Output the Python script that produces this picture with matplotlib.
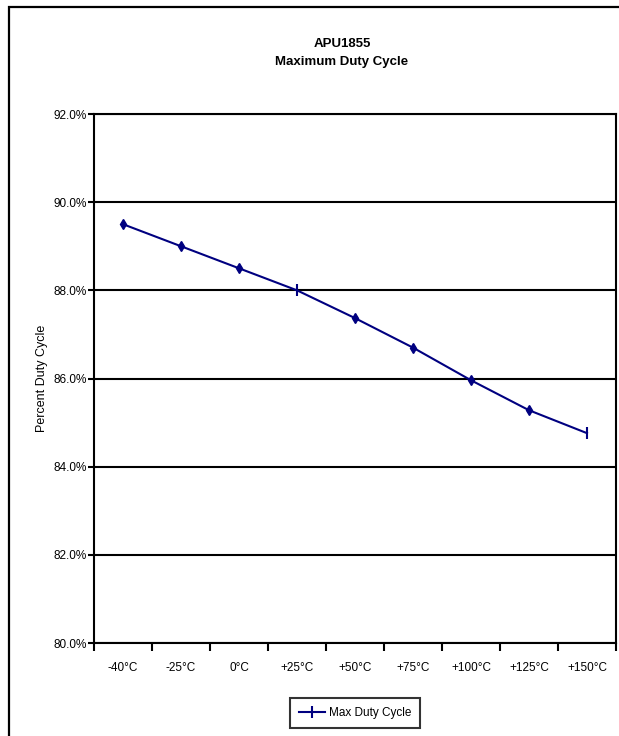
import matplotlib
matplotlib.use("Agg")
import matplotlib.pyplot as plt
from matplotlib.patches import Rectangle
from matplotlib.ticker import FixedLocator, FuncFormatter

# Chart data
temps = ["-40°C", "-25°C", "0°C", "+25°C", "+50°C", "+75°C", "+100°C", "+125°C", "+150°C"]
duty = [89.5, 89.0, 88.5, 88.0, 87.37, 86.7, 85.96, 85.28, 84.76]
y_ticks = [80, 82, 84, 86, 88, 90, 92]

plt.rcParams["font.family"] = ["Liberation Sans", "DejaVu Sans"]

W, H = 619, 736
fig = plt.figure(figsize=(W / 100, H / 100), dpi=100)

# outer chart border (right and bottom edges run off the image)
fig.patches.append(Rectangle((9 / W, -0.1), 1.2, 1.1 - 7 / H, transform=fig.transFigure,
                             fill=False, edgecolor="black", linewidth=1.6))

ax = fig.add_axes([94 / W, 1 - 643 / H, (616 - 94) / W, (643 - 114) / H])

x = list(range(len(temps)))
ax.plot(x, duty, color="#000080", linewidth=1.5, zorder=3)
diamond_idx = [i for i in x if i not in (3, 8)]
bar_idx = [3, 8]
ax.plot([x[i] for i in diamond_idx], [duty[i] for i in diamond_idx], linestyle="none",
        marker="d", markersize=5.5, color="#000080", zorder=4)
ax.plot([x[i] for i in bar_idx], [duty[i] for i in bar_idx], linestyle="none",
        marker="|", markersize=9, markeredgewidth=1.5, color="#000080", zorder=4)

ax.set_xlim(-0.5, len(temps) - 0.5)
ax.set_ylim(80, 92)

ax.yaxis.set_major_locator(FixedLocator(y_ticks))
ax.yaxis.set_major_formatter(FuncFormatter(lambda v, p: f"{v:.1f}%"))
ax.grid(axis="y", color="black", linewidth=1.5)
ax.set_axisbelow(True)

ax.set_xticks(x)
ax.set_xticklabels(temps)
ax.set_xticks([i - 0.5 for i in range(len(temps) + 1)], minor=True)
ax.tick_params(axis="x", which="major", length=0, pad=14, labelsize=8.5)
ax.tick_params(axis="x", which="minor", length=6, width=1.5, direction="out")
ax.tick_params(axis="y", length=4, width=1.5, labelsize=8.5, pad=1)

for s in ax.spines.values():
    s.set_linewidth(1.5)

ax.set_ylabel("Percent Duty Cycle", fontsize=9, labelpad=4)

fig.text(342 / W, 1 - 44 / H, "APU1855", ha="center", va="center", fontsize=9.5, fontweight="bold")
fig.text(342 / W, 1 - 62 / H, "Maximum Duty Cycle", ha="center", va="center", fontsize=9.5, fontweight="bold")

# legend
leg_handle = plt.Line2D([0], [0], color="#000080", linewidth=1.5, marker="|",
                        markersize=9, markeredgewidth=1.5)
leg = fig.legend(handles=[leg_handle], labels=["Max Duty Cycle"], loc="center",
                 bbox_to_anchor=(355 / W, 1 - 713 / H), fontsize=8.5, frameon=True,
                 fancybox=False, edgecolor="black", handlelength=2.2, borderpad=0.75,
                 handletextpad=0.3)
leg.get_frame().set_linewidth(1.5)

fig.savefig("out.png", dpi=100, facecolor="white")
